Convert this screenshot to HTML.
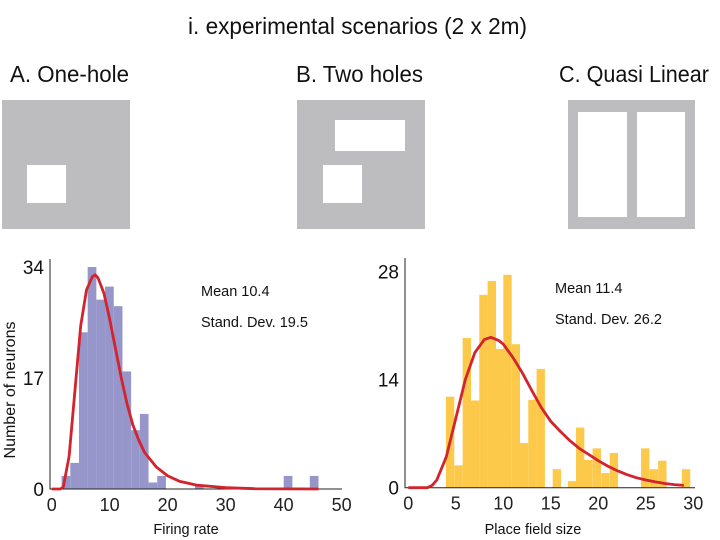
<!DOCTYPE html>
<html><head><meta charset="utf-8"><style>
html,body{margin:0;padding:0;background:#fff;}
svg{display:block;font-family:"Liberation Sans",sans-serif;}
</style></head><body>
<svg id="fig" width="720" height="540" viewBox="0 0 720 540">
<text x="188" y="34" font-size="23" textLength="339" lengthAdjust="spacingAndGlyphs" fill="#111">i. experimental scenarios (2 x 2m)</text>
<text x="10" y="82" font-size="23" textLength="119" lengthAdjust="spacingAndGlyphs" fill="#111">A. One-hole</text>
<text x="296" y="82" font-size="23" textLength="127" lengthAdjust="spacingAndGlyphs" fill="#111">B. Two holes</text>
<text x="559" y="82" font-size="23" textLength="150" lengthAdjust="spacingAndGlyphs" fill="#111">C. Quasi Linear</text>
<g>
<rect x="2" y="100" width="128" height="129" fill="#bdbdbf"/>
<rect x="27" y="165" width="39" height="38" fill="#fff"/>
</g>
<g>
<rect x="297" y="100" width="128" height="129" fill="#bdbdbf"/>
<rect x="335" y="120" width="70" height="31" fill="#fff"/>
<rect x="323" y="165" width="39" height="38" fill="#fff"/>
</g>
<g>
<rect x="568" y="100" width="127" height="129" fill="#bdbdbf"/>
<rect x="578" y="112" width="49" height="105" fill="#fff"/>
<rect x="637" y="112" width="48" height="105" fill="#fff"/>
</g>
<g id="left"></g>
<g id="right"></g>
</svg>
<script>
// Left chart data
const leftBinLeft = [1.7,3.2,4.7,6.2,7.7,9.2,10.7,12.2,13.7,15.2,16.7,18.2,24.7,40.0,44.5];
const leftCounts = [2,4,24,34,29,31,28,18,9,11.5,1,2,0.5,2,2];
const leftBinWidth = 1.5;
const leftCurveX = [0,1.5,2,3,4,5,6,7,7.5,8,9,10,11,12,13,14,15,16,18,20,22,25,30,35,46];
const leftCurveY = [0,0,0.3,5,15,25,30.5,32.5,32.8,32.3,30,26,21.5,17,13,9.8,7.5,5.6,3.4,2,1.2,0.6,0.2,0.05,0];
const leftXTicks = [0,10,20,30,40,50];
const leftYTicks = [0,17,34];
// Right chart data
const rightBinLeft = [3.96,4.84,5.72,6.6,7.47,8.35,9.23,10.0,10.88,11.75,12.63,13.5,15.2,16.8,17.65,18.5,19.4,20.3,21.2,24.5,25.4,26.3,28.8];
const rightCounts = [11.8,2.9,19.4,11.3,25,26.8,18,27.6,18.6,5.8,11.4,15.4,2.4,0.85,7.8,3.6,5.1,1.9,4.5,5.1,2.4,3.5,2.4];
const rightBinWidth = 0.88;
const rightCurveX = [0,2,2.5,3,4,5,6,7,8,8.7,9.5,10,11,12,13,14,15,16,17,18,19,20,21,22,23,24,25,26,27,28,29];
const rightCurveY = [0,0,0.3,1,4,9,14,17.5,19.2,19.5,19.1,18.6,16.9,14.9,12.6,10.4,8.6,7.3,6.1,5.1,4.3,3.5,2.8,2.2,1.7,1.3,1.0,0.75,0.55,0.4,0.3];
const rightXTicks = [0,5,10,15,20,25,30];
const rightYTicks = [0,14,28];

const NS="http://www.w3.org/2000/svg";
function mk(parent,tag,attrs,text){const e=document.createElementNS(NS,tag);for(const k in attrs)e.setAttribute(k,attrs[k]);if(text!==undefined)e.textContent=text;parent.appendChild(e);return e;}

function drawChart(g,cfg){
  const sx=v=>cfg.x0+(v-cfg.xmin)*(cfg.x1-cfg.x0)/(cfg.xmax-cfg.xmin);
  const sy=v=>cfg.y0-v*(cfg.y0-cfg.y1)/cfg.ymax;
  cfg.binLeft.forEach((b,i)=>{
    const r=mk(g,'rect',{x:sx(b),y:sy(cfg.counts[i]),width:sx(b+cfg.bw)-sx(b),height:sy(0)-sy(cfg.counts[i]),fill:cfg.color});
    
    
  });
  const ax=mk(g,'path',{d:`M${cfg.axX},${cfg.axTop} V${cfg.y0} H${cfg.axRight}`,stroke:'#222','stroke-width':1,fill:'none'});
  
  
  let d='';
  cfg.cx.forEach((x,i)=>{d+=(i?'L':'M')+sx(x).toFixed(1)+','+sy(cfg.cy[i]).toFixed(1)+' ';});
  const c=mk(g,'path',{d:d,stroke:'#d3232c','stroke-width':2.8,fill:'none','stroke-linejoin':'round'});
  
  
  cfg.xt.forEach(t=>{
    const tl=mk(g,'text',{x:sx(t),y:cfg.y0+22,'font-size':18,'text-anchor':'middle',fill:'#222'},String(t));
    
    
  });
  cfg.yt.forEach(t=>{
    const tl=mk(g,'text',{x:cfg.axX-6,y:sy(t)+7,'font-size':19,'text-anchor':'end',fill:'#111'},String(t));
    
    
  });
  const xl=mk(g,'text',{x:cfg.xlabX,y:534,'font-size':14.5,'text-anchor':'middle',fill:'#111'},cfg.xlab);
  
  
  const m=mk(g,'text',{x:cfg.statX,y:cfg.statY,'font-size':14.5,fill:'#111'},cfg.mean);
  
  
  const s=mk(g,'text',{x:cfg.statX,y:cfg.statY+31,'font-size':14.5,fill:'#111'},cfg.sd);
  
  
}
drawChart(document.getElementById('left'),{x0:51.7,x1:341.7,xmin:0,xmax:50,y0:489,y1:267,ymax:34,
  binLeft:leftBinLeft,counts:leftCounts,bw:leftBinWidth,color:'#9696cb',cx:leftCurveX,cy:leftCurveY,
  xt:leftXTicks,yt:leftYTicks,axX:50,axTop:259,axRight:342,xlab:'Firing rate',xlabX:186,
  statX:201,statY:296,mean:'Mean 10.4',sd:'Stand. Dev. 19.5'});
drawChart(document.getElementById('right'),{x0:408.3,x1:693.3,xmin:0,xmax:30,y0:487.7,y1:271.7,ymax:28,
  binLeft:rightBinLeft,counts:rightCounts,bw:rightBinWidth,color:'#fdc94b',cx:rightCurveX,cy:rightCurveY,
  xt:rightXTicks,yt:rightYTicks,axX:405,axTop:258,axRight:695,xlab:'Place field size',xlabX:533,
  statX:555,statY:293,mean:'Mean 11.4',sd:'Stand. Dev. 26.2'});
const yl=mk(document.getElementById('left'),'text',{x:0,y:0,'font-size':16,'text-anchor':'middle',fill:'#111',transform:'translate(15,390) rotate(-90)'},'Number of neurons');


</script>
</body></html>
